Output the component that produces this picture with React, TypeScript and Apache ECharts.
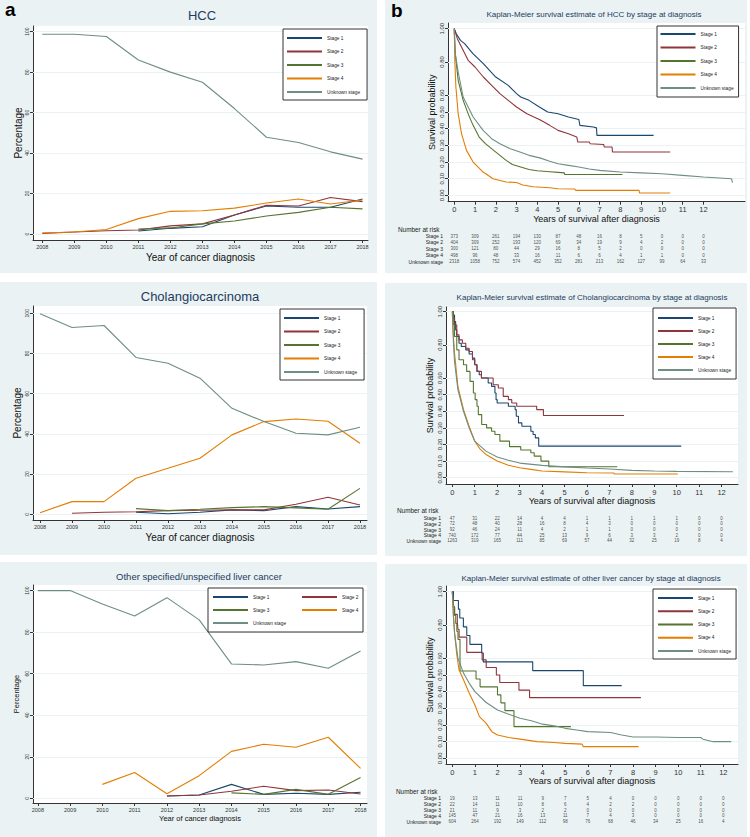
import React, { useEffect, useRef } from 'react';
import * as echarts from 'echarts';

// ---------- categories / ticks ----------
const YEARS = [2008, 2009, 2010, 2011, 2012, 2013, 2014, 2015, 2016, 2017, 2018];
const STAGES = ['Stage 1', 'Stage 2', 'Stage 3', 'Stage 4', 'Unknown stage'];
const PCT_TICKS = [0, 20, 40, 60, 80, 100];
const KM_Y_TICKS = [0, 0.1, 0.2, 0.3, 0.4, 0.5, 0.6, 0.8, 1.0];
const KM_X_TICKS = [0, 1, 2, 3, 4, 5, 6, 7, 8, 9, 10, 11, 12];

// ---------- HCC: percentage by year ----------
const hccPct1 = [null, null, null, 1.5, 2.8, 3.6, 9.4, 13.8, 13.2, 13.2, 17.3];
const hccPct2 = [0.3, 1.0, 1.6, 2.0, 4.0, 5.0, 9.4, 14.2, 13.8, 18.0, 16.0];
const hccPct3 = [null, null, null, 2.5, 3.0, 5.0, 6.4, 8.9, 10.7, 13.2, 12.4];
const hccPct4 = [0.5, 1.0, 2.2, 7.6, 11.2, 11.5, 12.8, 15.3, 17.3, 14.8, 16.8];
const hccPctU = [98.7, 98.7, 97.6, 86.0, 80.0, 75.0, 62.0, 47.8, 45.2, 40.6, 37.0];

// ---------- Cholangiocarcinoma: percentage by year ----------
const chPct1 = [null, null, null, 1.0, 0.3, 1.0, 2.2, 1.8, 3.8, 2.6, 3.8];
const chPct2 = [null, 0.5, 1.0, 1.3, 1.8, 2.0, 2.2, 2.2, 5.0, 8.5, 4.6];
const chPct3 = [null, null, null, 2.8, 1.8, 2.5, 3.3, 3.8, 3.2, 2.5, 12.9];
const chPct4 = [0.8, 6.3, 6.3, 17.9, 22.9, 27.9, 39.5, 46.1, 47.4, 46.3, 35.3];
const chPctU = [99.7, 92.9, 93.9, 78.0, 75.1, 67.7, 52.7, 46.1, 40.3, 39.5, 43.3];

// ---------- Other liver cancer: percentage by year ----------
const otPct1 = [null, null, null, null, 1.1, 1.6, 6.7, 1.9, 2.4, 1.9, 2.9];
const otPct2 = [null, null, null, null, 1.1, 1.6, 3.4, 5.8, 3.7, 4.0, 2.1];
const otPct3 = [null, null, null, null, null, null, 2.6, 1.9, 4.3, 1.9, 10.0];
const otPct4 = [null, null, 6.7, 12.4, 2.2, 10.9, 22.6, 26.0, 24.6, 29.4, 14.4];
const otPctU = [100, 100, 93.6, 87.8, 96.6, 85.9, 64.7, 64.2, 65.8, 62.6, 70.9];

// ---------- Kaplan-Meier estimates [years, survival] ----------
const hccKm1 = [[0, 1], [0.1, 0.97], [0.3, 0.93], [0.5, 0.91], [0.9, 0.85], [1.4, 0.79], [2.0, 0.71], [2.6, 0.66], [3.0, 0.61], [3.2, 0.59], [3.6, 0.57], [4.1, 0.53], [4.5, 0.5], [5.0, 0.49], [5.5, 0.47], [6.0, 0.455], [6.05, 0.42], [6.7, 0.41], [6.85, 0.405], [6.87, 0.36], [9.6, 0.36]];
const hccKm2 = [[0, 1], [0.15, 0.94], [0.35, 0.89], [0.67, 0.81], [1.0, 0.77], [1.4, 0.71], [1.8, 0.66], [2.2, 0.61], [2.6, 0.57], [3.0, 0.53], [3.5, 0.49], [4.1, 0.455], [4.6, 0.42], [5.0, 0.39], [5.5, 0.37], [5.9, 0.35], [5.95, 0.32], [6.5, 0.32], [6.55, 0.31], [7.2, 0.305], [7.22, 0.29], [7.6, 0.29], [7.62, 0.26], [10.4, 0.26]];
const hccKm3 = [[0, 1], [0.05, 0.85], [0.19, 0.69], [0.43, 0.57], [0.7, 0.48], [0.91, 0.42], [1.2, 0.35], [1.5, 0.31], [1.9, 0.27], [2.2, 0.24], [2.5, 0.21], [2.8, 0.185], [3.2, 0.17], [3.6, 0.155], [4.0, 0.148], [4.6, 0.142], [5.0, 0.138], [5.3, 0.135], [5.32, 0.125], [8.1, 0.125]];
const hccKm4 = [[0, 1], [0.03, 0.8], [0.08, 0.65], [0.19, 0.49], [0.35, 0.37], [0.59, 0.27], [0.91, 0.2], [1.15, 0.17], [1.39, 0.14], [1.87, 0.1], [2.5, 0.08], [3.0, 0.077], [3.3, 0.062], [3.8, 0.052], [4.6, 0.046], [5.0, 0.04], [5.8, 0.038], [5.85, 0.03], [8.9, 0.03], [8.92, 0.014], [10.4, 0.014]];
const hccKmU = [[0, 1], [0.05, 0.85], [0.19, 0.74], [0.43, 0.59], [0.91, 0.47], [1.39, 0.39], [1.8, 0.34], [2.2, 0.31], [2.7, 0.28], [3.16, 0.26], [3.6, 0.24], [4.12, 0.225], [4.6, 0.205], [5.0, 0.19], [5.5, 0.18], [6.0, 0.17], [6.5, 0.158], [7.0, 0.15], [8.0, 0.14], [9.0, 0.135], [10.0, 0.13], [11.0, 0.12], [12.0, 0.11], [13.35, 0.1], [13.4, 0.077]];

const chKm1 = [[0, 1], [0.05, 0.98], [0.1, 0.94], [0.15, 0.89], [0.2, 0.85], [0.3, 0.81], [0.4, 0.79], [0.6, 0.77], [0.75, 0.745], [0.9, 0.72], [1.0, 0.68], [1.1, 0.64], [1.2, 0.62], [1.3, 0.6], [1.6, 0.57], [1.75, 0.55], [1.9, 0.51], [1.95, 0.47], [2.0, 0.45], [2.5, 0.43], [2.8, 0.41], [2.85, 0.37], [2.95, 0.33], [3.1, 0.31], [3.5, 0.28], [3.6, 0.26], [3.7, 0.24], [3.85, 0.19], [10.2, 0.19]];
const chKm2 = [[0, 1], [0.05, 0.96], [0.1, 0.92], [0.2, 0.86], [0.3, 0.83], [0.45, 0.81], [0.6, 0.78], [0.75, 0.76], [0.9, 0.71], [1.0, 0.68], [1.1, 0.64], [1.3, 0.6], [1.82, 0.56], [2.05, 0.54], [2.27, 0.49], [2.5, 0.47], [2.65, 0.45], [2.87, 0.43], [3.76, 0.41], [4.06, 0.375], [7.65, 0.375]];
const chKm3 = [[0, 1], [0.05, 0.92], [0.1, 0.85], [0.2, 0.77], [0.3, 0.71], [0.5, 0.68], [0.64, 0.64], [0.79, 0.58], [0.94, 0.51], [1.02, 0.47], [1.1, 0.43], [1.16, 0.38], [1.31, 0.32], [1.53, 0.3], [1.75, 0.28], [1.9, 0.26], [2.12, 0.22], [2.55, 0.187], [3.05, 0.167], [3.5, 0.15], [3.65, 0.13], [3.95, 0.1], [4.3, 0.066], [7.35, 0.066]];
const chKm4 = [[0, 1], [0.05, 0.85], [0.1, 0.75], [0.25, 0.55], [0.5, 0.41], [0.75, 0.31], [1.0, 0.22], [1.25, 0.17], [1.5, 0.14], [2.0, 0.1], [2.5, 0.075], [3.0, 0.06], [3.5, 0.05], [4.0, 0.04], [5.0, 0.035], [6.0, 0.03], [7.2, 0.028], [7.22, 0.022], [10.05, 0.022]];
const chKmU = [[0, 1], [0.05, 0.82], [0.1, 0.7], [0.25, 0.53], [0.5, 0.4], [0.75, 0.3], [1.0, 0.22], [1.5, 0.16], [2.0, 0.125], [2.5, 0.105], [3.0, 0.088], [4.0, 0.074], [5.0, 0.065], [6.0, 0.058], [7.0, 0.052], [8.0, 0.044], [9.0, 0.04], [10.0, 0.038], [12.5, 0.036]];

const otKm1 = [[0, 1], [0.05, 0.947], [0.27, 0.895], [0.33, 0.842], [0.49, 0.789], [0.64, 0.737], [0.78, 0.684], [1.3, 0.632], [1.37, 0.579], [3.56, 0.526], [5.8, 0.436], [7.5, 0.436]];
const otKm2 = [[0, 1], [0.03, 0.955], [0.06, 0.909], [0.1, 0.864], [0.22, 0.818], [0.25, 0.773], [0.3, 0.727], [0.64, 0.636], [1.32, 0.591], [1.5, 0.545], [1.95, 0.5], [2.1, 0.455], [2.95, 0.409], [3.42, 0.364], [8.35, 0.364]];
const otKm3 = [[0, 1], [0.03, 0.952], [0.06, 0.905], [0.1, 0.857], [0.15, 0.81], [0.2, 0.762], [0.25, 0.714], [0.34, 0.524], [1.05, 0.476], [1.23, 0.429], [2.0, 0.381], [2.15, 0.333], [2.33, 0.286], [2.73, 0.19], [5.25, 0.19]];
const otKm4 = [[0, 1], [0.05, 0.85], [0.1, 0.75], [0.2, 0.62], [0.3, 0.53], [0.5, 0.47], [0.75, 0.39], [1.0, 0.32], [1.2, 0.25], [1.5, 0.21], [1.75, 0.16], [2.0, 0.14], [2.5, 0.125], [3.0, 0.115], [3.75, 0.1], [4.5, 0.095], [5.0, 0.09], [5.75, 0.085], [5.8, 0.07], [8.25, 0.07]];
const otKmU = [[0, 1], [0.05, 0.85], [0.1, 0.75], [0.25, 0.6], [0.5, 0.51], [0.75, 0.45], [1.0, 0.4], [1.5, 0.335], [2.0, 0.29], [2.5, 0.265], [3.0, 0.24], [3.5, 0.225], [4.0, 0.205], [4.5, 0.195], [5.0, 0.18], [5.5, 0.17], [6.0, 0.16], [7.0, 0.155], [7.5, 0.14], [8.0, 0.128], [9.0, 0.128], [10.0, 0.125], [11.0, 0.125], [11.1, 0.115], [11.55, 0.1], [12.35, 0.1]];

// ---------- Number at risk (years 0..12) ----------
const hccRisk1 = [373, 309, 261, 194, 130, 87, 48, 16, 8, 5, 0, 0, 0];
const hccRisk2 = [404, 309, 252, 193, 120, 69, 34, 19, 9, 4, 2, 0, 0];
const hccRisk3 = [300, 121, 80, 44, 29, 16, 8, 5, 2, 0, 0, 0, 0];
const hccRisk4 = [498, 96, 48, 33, 16, 11, 6, 6, 4, 1, 1, 0, 0];
const hccRiskU = [2318, 1058, 752, 574, 452, 352, 281, 213, 162, 127, 99, 64, 33];

const chRisk1 = [47, 31, 22, 14, 4, 4, 1, 1, 1, 1, 1, 0, 0];
const chRisk2 = [72, 48, 40, 28, 16, 8, 4, 3, 0, 0, 0, 0, 0];
const chRisk3 = [92, 46, 24, 11, 4, 2, 1, 1, 0, 0, 0, 0, 0];
const chRisk4 = [740, 172, 77, 44, 25, 13, 9, 6, 3, 3, 2, 0, 0];
const chRiskU = [1263, 319, 165, 111, 85, 69, 57, 44, 32, 25, 19, 8, 4];

const otRisk1 = [19, 13, 11, 11, 9, 7, 5, 4, 0, 0, 0, 0, 0];
const otRisk2 = [22, 14, 11, 10, 8, 6, 4, 2, 2, 0, 0, 0, 0];
const otRisk3 = [21, 11, 9, 3, 2, 2, 0, 0, 0, 0, 0, 0, 0];
const otRisk4 = [145, 47, 21, 16, 13, 11, 7, 4, 3, 0, 0, 0, 0];
const otRiskU = [604, 264, 192, 149, 112, 98, 76, 68, 46, 34, 25, 16, 4];

// ---------- styling ----------
const COLORS = ['#1a476f', '#90353b', '#55752f', '#e37e00', '#6e8e84'];
const BG = '#eaf2f3';
const FONT = '"Liberation Sans", Arial, Helvetica, sans-serif';
const TITLE_COLOR = '#1f3a5f';
const AXIS_COLOR = '#333';

function buildOption() {
  const grid: any[] = [];
  const xAxis: any[] = [];
  const yAxis: any[] = [];
  const series: any[] = [];
  const title: any[] = [];
  const legend: any[] = [];

  const axisLine = { show: true, onZero: false, lineStyle: { color: AXIS_COLOR, width: 1 } };
  const gridLines = (vals: number[]) => ({
    silent: true,
    symbol: ['none', 'none'],
    z: 1,
    label: { show: false },
    lineStyle: { type: 'solid', color: BG, width: 1 },
    data: vals.map((v) => ({ yAxis: v })),
  });

  const pctPanels = [
    { rect: { left: 33, top: 26, width: 335, height: 214 }, x: [2007.71, 2018.17], y: [-2.97, 102.8], name: 10, yGap: 10, xGap: 12,
      title: { text: 'HCC', cx: 202, top: 8.5, size: 13 }, data: [hccPct1, hccPct2, hccPct3, hccPct4, hccPctU] },
    { rect: { left: 33, top: 306, width: 334, height: 214 }, x: [2007.78, 2018.22], y: [-2.84, 103.6], name: 10, yGap: 11, xGap: 12,
      title: { text: 'Cholangiocarcinoma', cx: 200, top: 289.5, size: 13 }, data: [chPct1, chPct2, chPct3, chPct4, chPctU] },
    { rect: { left: 33, top: 585, width: 334, height: 218 }, x: [2007.85, 2018.2], y: [-2.26, 102.7], name: 7.5, yGap: 13, xGap: 11,
      title: { text: 'Other specified/unspecified liver cancer', cx: 199, top: 571.5, size: 9.5 }, data: [otPct1, otPct2, otPct3, otPct4, otPctU] },
  ];

  const kmPanels = [
    { rect: { left: 448, top: 23, width: 297, height: 178.7 }, x: [-0.3, 14.0], y: [-0.038, 1.034],
      risk: { left: 448, top: 232.8, width: 297, height: 32 }, nar: [398, 229.3],
      title: 'Kaplan-Meier survival estimate of HCC by stage at diagnosis', cx: 594, ttop: 10.5,
      data: [hccKm1, hccKm2, hccKm3, hccKm4, hccKmU], step: [false, false, false, false, false],
      riskRows: [hccRisk1, hccRisk2, hccRisk3, hccRisk4, hccRiskU] },
    { rect: { left: 446, top: 307, width: 292, height: 177 }, x: [-0.28, 12.73], y: [-0.038, 1.028],
      risk: { left: 446, top: 515.5, width: 292, height: 28.3 }, nar: [397, 510],
      title: 'Kaplan-Meier survival estimate of Cholangiocarcinoma by stage at diagnosis', cx: 592, ttop: 293.5,
      data: [chKm1, chKm2, chKm3, chKm4, chKmU], step: [true, true, true, false, false],
      riskRows: [chRisk1, chRisk2, chRisk3, chRisk4, chRiskU] },
    { rect: { left: 446, top: 586, width: 292, height: 178 }, x: [-0.28, 12.65], y: [-0.034, 1.034],
      risk: { left: 446, top: 795.4, width: 292, height: 29.3 }, nar: [396, 791.7],
      title: 'Kaplan-Meier survival estimate of other liver cancer by stage at diagnosis', cx: 591, ttop: 574.5,
      data: [otKm1, otKm2, otKm3, otKm4, otKmU], step: [true, true, true, false, false],
      riskRows: [otRisk1, otRisk2, otRisk3, otRisk4, otRiskU] },
  ];

  // percentage panels: grid indices 0..2
  pctPanels.forEach((p, gi) => {
    grid.push({ ...p.rect, show: true, backgroundColor: '#fff', borderWidth: 0, containLabel: false, outerBoundsMode: 'none' });
    xAxis.push({
      type: 'value', gridIndex: gi, min: p.x[0], max: p.x[1],
      axisLine, splitLine: { show: false },
      axisTick: { show: true, length: 3, customValues: YEARS, lineStyle: { color: AXIS_COLOR } },
      axisLabel: { customValues: YEARS, formatter: (v: number) => String(v), fontSize: 5.5, color: AXIS_COLOR, margin: 4, fontFamily: FONT },
      name: 'Year of cancer diagnosis', nameLocation: 'middle', nameGap: p.xGap,
      nameTextStyle: { fontSize: p.name, color: '#111', fontFamily: FONT },
    });
    yAxis.push({
      type: 'value', gridIndex: gi, min: p.y[0], max: p.y[1],
      axisLine, splitLine: { show: false },
      axisTick: { show: true, length: 3, customValues: PCT_TICKS, lineStyle: { color: AXIS_COLOR } },
      axisLabel: { customValues: PCT_TICKS, formatter: (v: number) => String(v), rotate: 90, fontSize: 5, color: AXIS_COLOR, margin: 4, fontFamily: FONT },
      name: 'Percentage', nameLocation: 'middle', nameRotate: 90, nameGap: p.yGap,
      nameTextStyle: { fontSize: p.name, color: '#111', fontFamily: FONT },
    });
    p.data.forEach((arr, k) => {
      series.push({
        type: 'line', name: STAGES[k], xAxisIndex: gi, yAxisIndex: gi,
        data: YEARS.map((yr, i) => [yr, arr[i]]).filter((d) => d[1] !== null),
        symbol: 'none', showSymbol: false, color: COLORS[k], z: 2,
        lineStyle: { width: 1.1, color: COLORS[k] },
        markLine: k === 4 ? gridLines(PCT_TICKS) : undefined,
      });
    });
    title.push({
      text: p.title.text, left: p.title.cx, top: p.title.top, textAlign: 'center', padding: 0,
      textStyle: { fontSize: p.title.size, fontWeight: 'normal', color: TITLE_COLOR, fontFamily: FONT },
    });
  });

  // KM panels: grid indices 3..5 ; risk tables 6..8
  kmPanels.forEach((p, j) => {
    const gi = 3 + j;
    grid.push({ ...p.rect, show: true, backgroundColor: '#fff', borderWidth: 0, containLabel: false, outerBoundsMode: 'none' });
    xAxis.push({
      type: 'value', gridIndex: gi, min: p.x[0], max: p.x[1],
      axisLine, splitLine: { show: false },
      axisTick: { show: true, length: 3, customValues: KM_X_TICKS, lineStyle: { color: AXIS_COLOR } },
      axisLabel: { customValues: KM_X_TICKS, formatter: (v: number) => String(v), fontSize: 7.5, color: AXIS_COLOR, margin: 4, fontFamily: FONT },
      name: 'Years of survival after diagnosis', nameLocation: 'middle', nameGap: 12.5,
      nameTextStyle: { fontSize: 9, color: '#111', fontFamily: FONT },
    });
    yAxis.push({
      type: 'value', gridIndex: gi, min: p.y[0], max: p.y[1],
      axisLine, splitLine: { show: false },
      axisTick: { show: true, length: 3, customValues: KM_Y_TICKS, lineStyle: { color: AXIS_COLOR } },
      axisLabel: { customValues: KM_Y_TICKS, formatter: (v: number) => v.toFixed(2), rotate: 90, fontSize: 6, color: AXIS_COLOR, margin: 3, fontFamily: FONT },
      name: 'Survival probability', nameLocation: 'middle', nameRotate: 90, nameGap: 12,
      nameTextStyle: { fontSize: 9, color: '#111', fontFamily: FONT },
    });
    p.data.forEach((arr, k) => {
      series.push({
        type: 'line', name: STAGES[k], xAxisIndex: gi, yAxisIndex: gi,
        data: arr, step: p.step[k] ? 'end' : false,
        symbol: 'none', showSymbol: false, color: COLORS[k], z: 2,
        lineStyle: { width: 1.1, color: COLORS[k] },
        markLine: k === 4 ? gridLines(KM_Y_TICKS) : undefined,
      });
    });
    title.push({
      text: p.title, left: p.cx, top: p.ttop, textAlign: 'center', padding: 0,
      textStyle: { fontSize: 8, fontWeight: 'normal', color: TITLE_COLOR, fontFamily: FONT },
    });
  });

  kmPanels.forEach((p, j) => {
    const gi = 6 + j;
    grid.push({ ...p.risk, show: false, containLabel: false, outerBoundsMode: 'none' });
    xAxis.push({ type: 'value', gridIndex: gi, min: p.x[0], max: p.x[1], show: false });
    yAxis.push({
      type: 'category', gridIndex: gi, data: STAGES, inverse: true,
      axisLine: { show: false }, axisTick: { show: false }, splitLine: { show: false },
      axisLabel: { interval: 0, fontSize: 5, color: '#222', margin: 5, fontFamily: FONT },
    });
    const pts: any[] = [];
    p.riskRows.forEach((row, r) => row.forEach((v, t) => pts.push([KM_X_TICKS[t], r, v])));
    series.push({
      type: 'scatter', name: 'risk' + j, xAxisIndex: gi, yAxisIndex: gi,
      data: pts, symbolSize: 1, itemStyle: { color: 'rgba(0,0,0,0)' }, silent: true,
      label: { show: true, position: 'inside', formatter: (q: any) => String(q.value[2]), fontSize: 4.5, color: '#222', fontFamily: FONT },
    });
  });

  const legBase = {
    orient: 'vertical', itemWidth: 35, itemHeight: 2, icon: 'rect',
    backgroundColor: '#fff', borderColor: '#333', borderWidth: 1, borderRadius: 0,
    selectedMode: false, data: STAGES,
    textStyle: { fontSize: 4.8, lineHeight: 6, color: '#222', fontFamily: FONT },
  };
  legend.push({ ...legBase, left: 283, top: 29, padding: [6, 7, 5, 4], itemGap: 7.5 });
  legend.push({ ...legBase, left: 657, top: 26, padding: [5, 5, 6, 3.5], itemGap: 7.5 });
  legend.push({ ...legBase, left: 280, top: 309, padding: [6, 7, 5, 4], itemGap: 7.5 });
  legend.push({ ...legBase, left: 653, top: 308, padding: [7, 5, 6, 5], itemGap: 7 });
  legend.push({ ...legBase, left: 653, top: 589, padding: [6, 5, 5, 5], itemGap: 7.25 });
  legend.push({ ...legBase, left: 213, top: 594, padding: 0, itemGap: 7, borderWidth: 0, backgroundColor: 'transparent', data: ['Stage 1', 'Stage 3', 'Unknown stage'] });
  legend.push({ ...legBase, left: 302, top: 594, padding: 0, itemGap: 7, borderWidth: 0, backgroundColor: 'transparent', data: ['Stage 2', 'Stage 4'] });

  const panels = [
    [0, 0, 377, 273], [385, 0, 362, 273],
    [0, 282, 377, 273], [385, 283, 362, 273],
    [0, 562, 377, 275], [385, 564, 362, 273],
  ];
  const graphic: any[] = panels.map((r) => ({
    type: 'rect', z: -10, silent: true,
    shape: { x: r[0], y: r[1], width: r[2], height: r[3] }, style: { fill: BG },
  }));
  graphic.push({ type: 'rect', z: 3, silent: true, shape: { x: 208, y: 588, width: 155, height: 44 }, style: { fill: '#fff', stroke: '#333', lineWidth: 1 } });
  graphic.push({ type: 'text', x: 5, y: 0, z: 10, style: { text: 'a', font: `bold 19px ${FONT}`, fill: '#000', verticalAlign: 'top' } });
  graphic.push({ type: 'text', x: 391, y: 1, z: 10, style: { text: 'b', font: `bold 19px ${FONT}`, fill: '#000', verticalAlign: 'top' } });
  kmPanels.forEach((p) => {
    graphic.push({ type: 'text', x: p.nar[0], y: p.nar[1], z: 10, style: { text: 'Number at risk', font: `6.4px ${FONT}`, fill: '#222', verticalAlign: 'middle', align: 'left' } });
  });

  return {
    animation: false,
    backgroundColor: '#ffffff',
    textStyle: { fontFamily: FONT },
    title, legend, grid, xAxis, yAxis, series, graphic,
  };
}

export default function App() {
  const ref = useRef<HTMLDivElement>(null);
  useEffect(() => {
    if (!ref.current) return;
    const chart = echarts.init(ref.current, undefined, { renderer: 'svg' });
    chart.setOption(buildOption() as any);
    return () => chart.dispose();
  }, []);
  return <div ref={ref} style={{ position: 'absolute', left: 0, top: 0, width: 750, height: 837 }} />;
}
